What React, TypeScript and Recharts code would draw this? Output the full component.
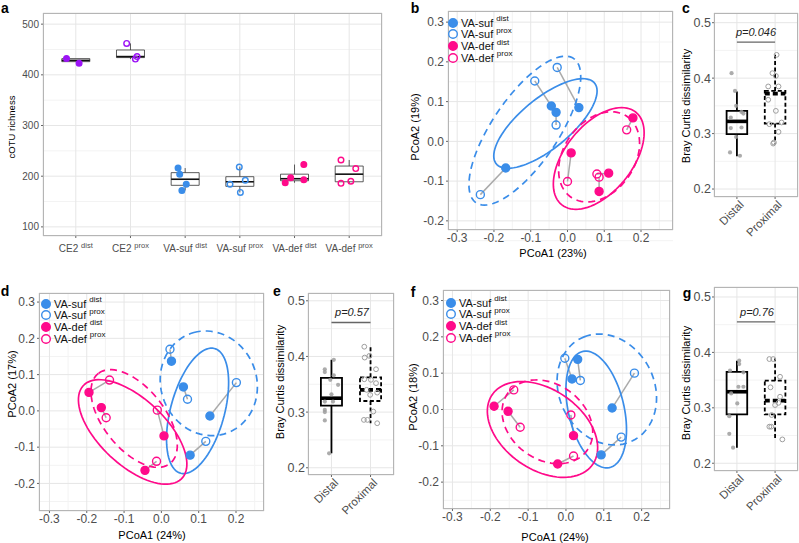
import React from "react";
import {
  ScatterChart,
  Scatter,
  XAxis,
  YAxis,
  CartesianGrid,
  ReferenceArea,
  ReferenceLine,
} from "recharts";

const BLUE = "#3a8de9";
const PINK = "#ff0a8a";
const PURPLE = "#9c14f5";
const GREY_PT = "#9e9e9e";
const INK = "#4d4d4d";
const FONT = "'Liberation Sans', Arial, Helvetica, sans-serif";
const PAD = 10;

// ---- a: cOTU richness
const richGroups = ["CE2", "CE2", "VA-suf", "VA-suf", "VA-def", "VA-def"];
const richSites = ["dist", "prox", "dist", "prox", "dist", "prox"];
const richColors = [PURPLE, PURPLE, BLUE, BLUE, PINK, PINK];
const richLow = [426, 431, 172, 168, 187, 186];
const richQ1 = [426, 434, 182, 180, 191, 189];
const richMed = [428.5, 436, 194, 189, 195, 204];
const richQ3 = [432, 449, 207, 199, 204, 220];
const richHigh = [432, 462, 216, 219, 223, 232];
// [category, jitter, value]
const richPoints = [
  [0, -0.17, 432], [0, 0.06, 423],
  [1, -0.07, 462], [1, 0.09, 431], [1, 0.12, 436],
  [2, -0.13, 216], [2, -0.1, 204], [2, 0.02, 184], [2, -0.06, 172],
  [3, -0.01, 218], [3, -0.18, 184], [3, 0.1, 192], [3, 0.01, 168],
  [4, -0.17, 187], [4, -0.07, 197], [4, 0.17, 193], [4, 0.17, 223],
  [5, -0.15, 232], [5, 0.12, 215], [5, 0.03, 190], [5, -0.15, 186],
];

// ---- PCoA panels (dist[i] is paired with prox[i])
const bSufDist = [[-0.168, -0.067], [-0.044, 0.089], [-0.031, 0.073], [0.031, 0.085]];
const bSufProx = [[-0.237, -0.134], [-0.089, 0.152], [-0.031, 0.041], [-0.028, 0.186]];
const bDefDist = [[0.01, -0.029], [0.086, -0.126], [0.112, -0.08], [0.178, 0.059]];
const bDefProx = [[0.0, -0.101], [0.086, -0.09], [0.08, -0.082], [0.161, 0.029]];
// [cx, cy, ax, ay, bx, by]: suf solid, suf dashed, def solid, def dashed
const bEllipses = [
  [-0.06, 0.045, 0.135, 0.1, -0.039, 0.052],
  [-0.116, 0.027, 0.135, 0.18, -0.07, 0.052],
  [0.085, -0.043, 0.105, 0.113, -0.065, 0.06],
  [0.086, -0.039, 0.085, 0.095, -0.07, 0.062],
];

const dSufDist = [[0.027, 0.137], [0.059, 0.066], [0.13, -0.014], [0.077, -0.122]];
const dSufProx = [[0.023, 0.17], [0.07, 0.032], [0.201, 0.078], [0.119, -0.084]];
const dDefDist = [[-0.194, 0.051], [-0.161, 0.009], [0.007, -0.069], [-0.044, -0.164]];
const dDefProx = [[-0.139, 0.085], [-0.148, -0.019], [-0.011, 0.002], [-0.013, -0.139]];
const dEllipses = [
  [0.097, 0.0, 0.045, 0.172, 0.07, -0.018],
  [0.127, 0.076, -0.04, 0.14, 0.124, 0.035],
  [-0.077, -0.058, -0.13, 0.13, 0.065, 0.062],
  [-0.073, -0.021, -0.095, 0.125, 0.066, 0.05],
];

const fSufDist = [[0.031, 0.138], [0.016, 0.084], [0.122, 0.004], [0.093, -0.125]];
const fSufProx = [[0.038, 0.08], [-0.003, 0.141], [0.181, 0.1], [0.146, -0.076]];
const fDefDist = [[-0.19, 0.009], [-0.153, -0.005], [0.02, -0.072], [-0.022, -0.15]];
const fDefProx = [[-0.138, 0.054], [-0.121, -0.049], [0.013, -0.015], [0.02, -0.128]];
const fEllipses = [
  [0.08, 0.0, -0.035, 0.16, 0.072, 0.016],
  [0.108, 0.055, -0.06, 0.145, 0.117, 0.048],
  [-0.062, -0.055, -0.13, 0.1, 0.066, 0.086],
  [-0.049, -0.034, -0.1, 0.085, 0.066, 0.078],
];

const pcoTicks = [-0.3, -0.2, -0.1, 0, 0.1, 0.2];
const pcoYTicks = [-0.2, -0.1, 0, 0.1, 0.2, 0.3];
const pcoMinorX = [-0.25, -0.15, -0.05, 0.05, 0.15, 0.25];
const pcoMinorY = [-0.25, -0.15, -0.05, 0.05, 0.15, 0.25];

// ---- Bray Curtis panels: [distal, proximal]
const boxCats = ["Distal", "Proximal"];
const bcTicks = [0.2, 0.3, 0.4, 0.5];
const bcMinor = [0.25, 0.35, 0.45];

const cLow = [0.259, 0.282];
const cQ1 = [0.299, 0.318];
const cMed = [0.322, 0.372];
const cQ3 = [0.341, 0.377];
const cHigh = [0.376, 0.442];
const cDistal = [[-0.14, 0.409], [-0.05, 0.377], [-0.02, 0.35], [0.12, 0.339], [-0.16, 0.329], [0.17, 0.336], [-0.16, 0.31], [0.12, 0.311], [-0.02, 0.294], [-0.18, 0.266], [0.08, 0.26]];
const cProximal = [[0.04, 0.442], [-0.07, 0.409], [0.02, 0.404], [-0.18, 0.385], [0.09, 0.385], [-0.18, 0.361], [0.02, 0.341], [-0.15, 0.317], [0.17, 0.32], [0.09, 0.303], [-0.03, 0.284], [-0.05, 0.282]];

const eLow = [0.226, 0.28];
const eQ1 = [0.3115, 0.32];
const eMed = [0.325, 0.34];
const eQ3 = [0.3615, 0.3625];
const eHigh = [0.394, 0.4175];
const eDistal = [[0.06, 0.394], [-0.17, 0.377], [-0.17, 0.372], [0.06, 0.366], [-0.03, 0.358], [0.17, 0.349], [0, 0.332], [-0.17, 0.319], [0.04, 0.319], [-0.17, 0.304], [-0.17, 0.3], [-0.17, 0.285], [-0.06, 0.226]];
const eProximal = [[-0.16, 0.4175], [-0.15, 0.398], [-0.03, 0.401], [0.14, 0.377], [-0.16, 0.359], [0.01, 0.358], [0.14, 0.352], [-0.1, 0.34], [0.17, 0.335], [-0.01, 0.331], [0.07, 0.301], [-0.17, 0.286], [-0.08, 0.286], [0.17, 0.28]];

const gLow = [0.228, 0.245];
const gQ1 = [0.288, 0.288];
const gMed = [0.329, 0.313];
const gQ3 = [0.365, 0.349];
const gHigh = [0.385, 0.389];
const gDistal = [[0.06, 0.385], [0.06, 0.379], [-0.18, 0.367], [0.17, 0.364], [0.04, 0.338], [0.17, 0.338], [-0.15, 0.326], [0.01, 0.308], [-0.2, 0.285], [-0.2, 0.253], [-0.1, 0.228]];
const gProximal = [[-0.15, 0.388], [-0.05, 0.388], [0.13, 0.356], [-0.12, 0.337], [0.13, 0.32], [0.09, 0.309], [0, 0.305], [-0.09, 0.287], [-0.15, 0.266], [-0.1, 0.266], [0.19, 0.243]];

type Rect = { l: number; t: number; r: number; b: number };

function frame(rect: Rect, yw: number, xh: number) {
  return {
    style: { position: "absolute" as const, left: rect.l - yw, top: rect.t - PAD },
    width: yw + rect.r - rect.l + PAD,
    height: PAD + rect.b - rect.t + xh,
  };
}

function Border({ rect }: { rect: Rect }) {
  return (
    <div
      style={{
        position: "absolute",
        left: rect.l,
        top: rect.t,
        width: rect.r - rect.l,
        height: rect.b - rect.t,
        border: "1px solid #b5b5b5",
        boxSizing: "border-box",
        pointerEvents: "none",
      }}
    />
  );
}

function Txt({ x, y, size, children, italic, bold, color }: any) {
  return (
    <div
      style={{
        position: "absolute",
        left: x,
        top: y,
        transform: "translate(-50%, -50%)",
        whiteSpace: "nowrap",
        fontSize: size,
        fontStyle: italic ? "italic" : "normal",
        fontWeight: bold ? "bold" : "normal",
        color: color || "#000",
      }}
    >
      {children}
    </div>
  );
}

function VTxt({ x, y, size, children }: any) {
  return (
    <div
      style={{
        position: "absolute",
        left: x,
        top: y,
        transform: "translate(-50%, -50%) rotate(-90deg)",
        whiteSpace: "nowrap",
        fontSize: size,
        color: "#000",
      }}
    >
      {children}
    </div>
  );
}

const noDot = () => <g />;
const dot = (color: string, filled: boolean, r: number) => (p: any) =>
  (
    <circle
      cx={p.cx}
      cy={p.cy}
      r={r}
      fill={filled ? color : "none"}
      stroke={color}
      strokeWidth={1.4}
    />
  );

const tickStyle = (size: number) => ({ fontSize: size, fill: INK, fontFamily: FONT });

function ellipsePts(e: number[]) {
  const [cx, cy, ax, ay, bx, by] = e;
  const out = [];
  for (let i = 0; i <= 90; i++) {
    const t = (i / 90) * Math.PI * 2;
    out.push({
      x: cx + ax * Math.cos(t) + bx * Math.sin(t),
      y: cy + ay * Math.cos(t) + by * Math.sin(t),
    });
  }
  return out;
}

const toXY = (arr: number[][]) => arr.map(([x, y]) => ({ x, y }));

// ---------------- panel a
function RichTick(props: any) {
  const { x, y, payload } = props;
  const i = payload.value - 1;
  return (
    <text x={x} y={y + 12} textAnchor="middle" fontSize={10} fill={INK} fontFamily={FONT}>
      {richGroups[i] + "\u00a0"}
      <tspan dy={-4} fontSize={7.5}>
        {richSites[i]}
      </tspan>
    </text>
  );
}

function RichPanel() {
  const rect = { l: 43, t: 13, r: 382, b: 236 };
  const f = frame(rect, 40, 30);
  const hw = 0.256;
  return (
    <>
      <div style={f.style}>
        <ScatterChart width={f.width} height={f.height} margin={{ top: PAD, right: PAD, left: 0, bottom: 0 }}>
          <CartesianGrid stroke="#f3f3f3" vertical={false} horizontalValues={[150, 250, 350, 450]} />
          <CartesianGrid stroke="#e6e6e6" />
          <XAxis
            type="number"
            dataKey="x"
            domain={[0.4, 6.6]}
            ticks={[1, 2, 3, 4, 5, 6]}
            tick={<RichTick />}
            tickSize={2}
            axisLine={false}
            tickLine={{ stroke: "#666" }}
            height={30}
            allowDataOverflow
          />
          <YAxis
            type="number"
            dataKey="y"
            domain={[82, 522]}
            ticks={[100, 200, 300, 400, 500]}
            tick={tickStyle(10)}
            tickSize={2}
            tickMargin={2}
            axisLine={false}
            tickLine={{ stroke: "#666" }}
            width={40}
            allowDataOverflow
          />
          {richMed.map((m, i) => (
            <ReferenceArea
              key={"bx" + i}
              x1={i + 1 - hw}
              x2={i + 1 + hw}
              y1={richQ1[i]}
              y2={richQ3[i]}
              fill="#fff"
              fillOpacity={1}
              stroke="#333"
              strokeWidth={0.8}
            />
          ))}
          {richMed.map((m, i) => (
            <ReferenceLine
              key={"wh" + i}
              segment={[{ x: i + 1, y: richQ3[i] }, { x: i + 1, y: richHigh[i] }]}
              stroke="#333"
              strokeWidth={0.8}
            />
          ))}
          {richMed.map((m, i) => (
            <ReferenceLine
              key={"wl" + i}
              segment={[{ x: i + 1, y: richQ1[i] }, { x: i + 1, y: richLow[i] }]}
              stroke="#333"
              strokeWidth={0.8}
            />
          ))}
          {richMed.map((m, i) => (
            <ReferenceLine
              key={"md" + i}
              segment={[{ x: i + 1 - hw, y: m }, { x: i + 1 + hw, y: m }]}
              stroke="#111"
              strokeWidth={1.6}
            />
          ))}
          {richGroups.map((g, i) => (
            <Scatter
              key={"pt" + i}
              data={richPoints.filter((p) => p[0] === i).map((p) => ({ x: i + 1 + p[1], y: p[2] }))}
              shape={dot(richColors[i], richSites[i] === "dist", 2.8)}
              isAnimationActive={false}
            />
          ))}
        </ScatterChart>
      </div>
      <Border rect={rect} />
      <VTxt x={11} y={127} size={9.5}>cOTU richness</VTxt>
    </>
  );
}

// ---------------- PCoA panels
function PLegend({ x, y }: { x: number; y: number }) {
  const rows: [string, boolean, string, string][] = [
    [BLUE, true, "VA-suf", "dist"],
    [BLUE, false, "VA-suf", "prox"],
    [PINK, true, "VA-def", "dist"],
    [PINK, false, "VA-def", "prox"],
  ];
  return (
    <>
      {rows.map((r, i) => (
        <div
          key={i}
          style={{
            position: "absolute",
            left: x - 5,
            top: y + i * 11.7 - 7,
            height: 14,
            display: "flex",
            alignItems: "center",
            fontSize: 11,
            color: "#111",
            whiteSpace: "nowrap",
          }}
        >
          <svg width={10} height={10} style={{ overflow: "visible" }}>
            <circle cx={5} cy={5} r={4.3} fill={r[1] ? r[0] : "#fff"} stroke={r[0]} strokeWidth={1.4} />
          </svg>
          <span style={{ marginLeft: 3 }}>{r[2]}</span>
          <span style={{ fontSize: 8, position: "relative", top: -4, marginLeft: 3 }}>{r[3]}</span>
        </div>
      ))}
    </>
  );
}

function PcoaPanel(props: {
  rect: Rect;
  xDom: number[];
  yDom: number[];
  sufDist: number[][];
  sufProx: number[][];
  defDist: number[][];
  defProx: number[][];
  ellipses: number[][];
}) {
  const { rect, xDom, yDom, sufDist, sufProx, defDist, defProx, ellipses } = props;
  const f = frame(rect, 40, 24);
  const ellColors = [BLUE, BLUE, PINK, PINK];
  const ellDash = [undefined, "7 5", undefined, "7 5"];
  const pairs = [
    ...sufDist.map((p, i) => [p, sufProx[i]]),
    ...defDist.map((p, i) => [p, defProx[i]]),
  ];
  return (
    <div style={f.style}>
      <ScatterChart width={f.width} height={f.height} margin={{ top: PAD, right: PAD, left: 0, bottom: 0 }}>
        <CartesianGrid stroke="#f3f3f3" horizontalValues={pcoMinorY} verticalValues={pcoMinorX} />
        <CartesianGrid stroke="#e6e6e6" />
        <XAxis
          type="number"
          dataKey="x"
          domain={xDom}
          ticks={pcoTicks}
          tickFormatter={(v: number) => v.toFixed(1)}
          tick={tickStyle(12)}
          tickSize={2}
          tickMargin={1}
          axisLine={false}
          tickLine={{ stroke: "#666" }}
          height={24}
          allowDataOverflow
        />
        <YAxis
          type="number"
          dataKey="y"
          domain={yDom}
          ticks={pcoYTicks}
          tickFormatter={(v: number) => v.toFixed(1)}
          tick={tickStyle(12)}
          tickSize={2}
          tickMargin={2}
          axisLine={false}
          tickLine={{ stroke: "#666" }}
          width={40}
          allowDataOverflow
        />
        {pairs.map((pr, i) => (
          <ReferenceLine
            key={"pr" + i}
            segment={[{ x: pr[0][0], y: pr[0][1] }, { x: pr[1][0], y: pr[1][1] }]}
            stroke="#aaaaaa"
            strokeWidth={1.5}
          />
        ))}
        {ellipses.map((e, i) => (
          <Scatter
            key={"el" + i}
            data={ellipsePts(e)}
            fill="none"
            line={{ stroke: ellColors[i], strokeWidth: 1.7, strokeDasharray: ellDash[i], fill: "none" }}
            lineType="joint"
            shape={noDot}
            isAnimationActive={false}
          />
        ))}
        <Scatter data={toXY(sufProx)} shape={dot(BLUE, false, 4)} isAnimationActive={false} />
        <Scatter data={toXY(defProx)} shape={dot(PINK, false, 4)} isAnimationActive={false} />
        <Scatter data={toXY(sufDist)} shape={dot(BLUE, true, 4)} isAnimationActive={false} />
        <Scatter data={toXY(defDist)} shape={dot(PINK, true, 4)} isAnimationActive={false} />
      </ScatterChart>
    </div>
  );
}

// ---------------- Bray Curtis panels
function RotTick(props: any) {
  const { x, y, payload } = props;
  return (
    <g transform={`translate(${x + 4},${y + 1})`}>
      <text transform="rotate(-45)" textAnchor="end" dy={5} fontSize={11.5} fill={INK} fontFamily={FONT}>
        {boxCats[payload.value - 1]}
      </text>
    </g>
  );
}

function BoxPanel(props: {
  rect: Rect;
  yDom: number[];
  low: number[];
  q1: number[];
  med: number[];
  q3: number[];
  high: number[];
  distal: number[][];
  proximal: number[][];
  pY: number;
}) {
  const { rect, yDom, low, q1, med, q3, high, distal, proximal, pY } = props;
  const f = frame(rect, 34, 56);
  const hw = 0.27;
  const dash = [undefined, "4 2.5"];
  return (
    <div style={f.style}>
      <ScatterChart width={f.width} height={f.height} margin={{ top: PAD, right: PAD, left: 0, bottom: 0 }}>
        <CartesianGrid stroke="#f3f3f3" vertical={false} horizontalValues={bcMinor} />
        <CartesianGrid stroke="#e6e6e6" />
        <XAxis
          type="number"
          dataKey="x"
          domain={[0.4, 2.6]}
          ticks={[1, 2]}
          tick={<RotTick />}
          tickSize={2}
          axisLine={false}
          tickLine={{ stroke: "#666" }}
          height={56}
          allowDataOverflow
        />
        <YAxis
          type="number"
          dataKey="y"
          domain={yDom}
          ticks={bcTicks}
          tickFormatter={(v: number) => v.toFixed(1)}
          tick={tickStyle(12.5)}
          tickSize={2}
          tickMargin={1}
          axisLine={false}
          tickLine={{ stroke: "#666" }}
          width={34}
          allowDataOverflow
        />
        {med.map((m, i) => (
          <ReferenceLine
            key={"wh" + i}
            segment={[{ x: i + 1, y: q3[i] }, { x: i + 1, y: high[i] }]}
            stroke="#000"
            strokeWidth={1.8}
            strokeDasharray={dash[i]}
          />
        ))}
        {med.map((m, i) => (
          <ReferenceLine
            key={"wl" + i}
            segment={[{ x: i + 1, y: q1[i] }, { x: i + 1, y: low[i] }]}
            stroke="#000"
            strokeWidth={1.8}
            strokeDasharray={dash[i]}
          />
        ))}
        {med.map((m, i) => (
          <ReferenceArea
            key={"bx" + i}
            x1={i + 1 - hw}
            x2={i + 1 + hw}
            y1={q1[i]}
            y2={q3[i]}
            fill="none"
            stroke="#000"
            strokeWidth={1.8}
            strokeDasharray={dash[i]}
          />
        ))}
        <Scatter
          data={distal.map(([j, v]) => ({ x: 1 + j, y: v }))}
          shape={(p: any) => <circle cx={p.cx} cy={p.cy} r={2.1} fill={GREY_PT} fillOpacity={0.85} />}
          isAnimationActive={false}
        />
        <Scatter
          data={proximal.map(([j, v]) => ({ x: 2 + j, y: v }))}
          shape={(p: any) => <circle cx={p.cx} cy={p.cy} r={2.4} fill="none" stroke={GREY_PT} strokeWidth={1} />}
          isAnimationActive={false}
        />
        {med.map((m, i) => (
          <ReferenceLine
            key={"md" + i}
            segment={[{ x: i + 1 - hw, y: m }, { x: i + 1 + hw, y: m }]}
            stroke="#000"
            strokeWidth={3.6}
            strokeDasharray={i === 1 ? "5 3" : undefined}
          />
        ))}
        <ReferenceLine
          segment={[{ x: 1, y: pY }, { x: 2, y: pY }]}
          stroke="#666"
          strokeWidth={1.3}
        />
      </ScatterChart>
    </div>
  );
}

export default function App() {
  const bRect = { l: 448, t: 11, r: 673, b: 230 };
  const cRect = { l: 714, t: 13, r: 798, b: 197 };
  const dRect = { l: 39, t: 293, r: 264, b: 511 };
  const eRect = { l: 308, t: 293, r: 394, b: 475 };
  const fRect = { l: 443, t: 290, r: 670, b: 509 };
  const gRect = { l: 714, t: 287, r: 798, b: 471 };
  return (
    <div
      style={{
        position: "absolute",
        left: 0,
        top: 0,
        width: 799,
        height: 543,
        overflow: "hidden",
        background: "#fff",
        fontFamily: FONT,
      }}
    >
      <RichPanel />

      <PcoaPanel rect={bRect} xDom={[-0.325, 0.287]} yDom={[-0.223, 0.328]}
        sufDist={bSufDist} sufProx={bSufProx} defDist={bDefDist} defProx={bDefProx} ellipses={bEllipses} />
      <Border rect={bRect} />
      <PLegend x={453} y={22.7} />
      <Txt x={553} y={253} size={11}>PCoA1 (23%)</Txt>
      <VTxt x={415} y={127} size={11}>PCoA2 (19%)</VTxt>

      <BoxPanel rect={cRect} yDom={[0.1856, 0.5175]} low={cLow} q1={cQ1} med={cMed} q3={cQ3} high={cHigh}
        distal={cDistal} proximal={cProximal} pY={0.465} />
      <Border rect={cRect} />
      <Txt x={756} y={32} size={11} italic color="#222">p=0.046</Txt>
      <VTxt x={686} y={106} size={11}>Bray Curtis dissimilarity</VTxt>

      <PcoaPanel rect={dRect} xDom={[-0.328, 0.275]} yDom={[-0.276, 0.325]}
        sufDist={dSufDist} sufProx={dSufProx} defDist={dDefDist} defProx={dDefProx} ellipses={dEllipses} />
      <Border rect={dRect} />
      <PLegend x={46} y={303.5} />
      <Txt x={152} y={535} size={11}>PCoA1 (24%)</Txt>
      <VTxt x={12} y={384} size={11}>PCoA2 (17%)</VTxt>

      <BoxPanel rect={eRect} yDom={[0.187, 0.514]} low={eLow} q1={eQ1} med={eMed} q3={eQ3} high={eHigh}
        distal={eDistal} proximal={eProximal} pY={0.461} />
      <Border rect={eRect} />
      <Txt x={352} y={312} size={11} italic color="#222">p=0.57</Txt>
      <VTxt x={280} y={382} size={11}>Bray Curtis dissimilarity</VTxt>

      <PcoaPanel rect={fRect} xDom={[-0.325, 0.275]} yDom={[-0.274, 0.329]}
        sufDist={fSufDist} sufProx={fSufProx} defDist={fDefDist} defProx={fDefProx} ellipses={fEllipses} />
      <Border rect={fRect} />
      <PLegend x={451} y={302.7} />
      <Txt x={555} y={537} size={11}>PCoA1 (24%)</Txt>
      <VTxt x={413} y={397} size={11}>PCoA2 (18%)</VTxt>

      <BoxPanel rect={gRect} yDom={[0.186, 0.518]} low={gLow} q1={gQ1} med={gMed} q3={gQ3} high={gHigh}
        distal={gDistal} proximal={gProximal} pY={0.455} />
      <Border rect={gRect} />
      <Txt x={757} y={312} size={11} italic color="#222">p=0.76</Txt>
      <VTxt x={686} y={383} size={11}>Bray Curtis dissimilarity</VTxt>

      <Txt x={5} y={8} size={14} bold>a</Txt>
      <Txt x={415} y={8} size={14} bold>b</Txt>
      <Txt x={686} y={8} size={14} bold>c</Txt>
      <Txt x={5} y={291} size={14} bold>d</Txt>
      <Txt x={277} y={291} size={14} bold>e</Txt>
      <Txt x={413} y={292} size={14} bold>f</Txt>
      <Txt x={687} y={293} size={14} bold>g</Txt>
    </div>
  );
}
